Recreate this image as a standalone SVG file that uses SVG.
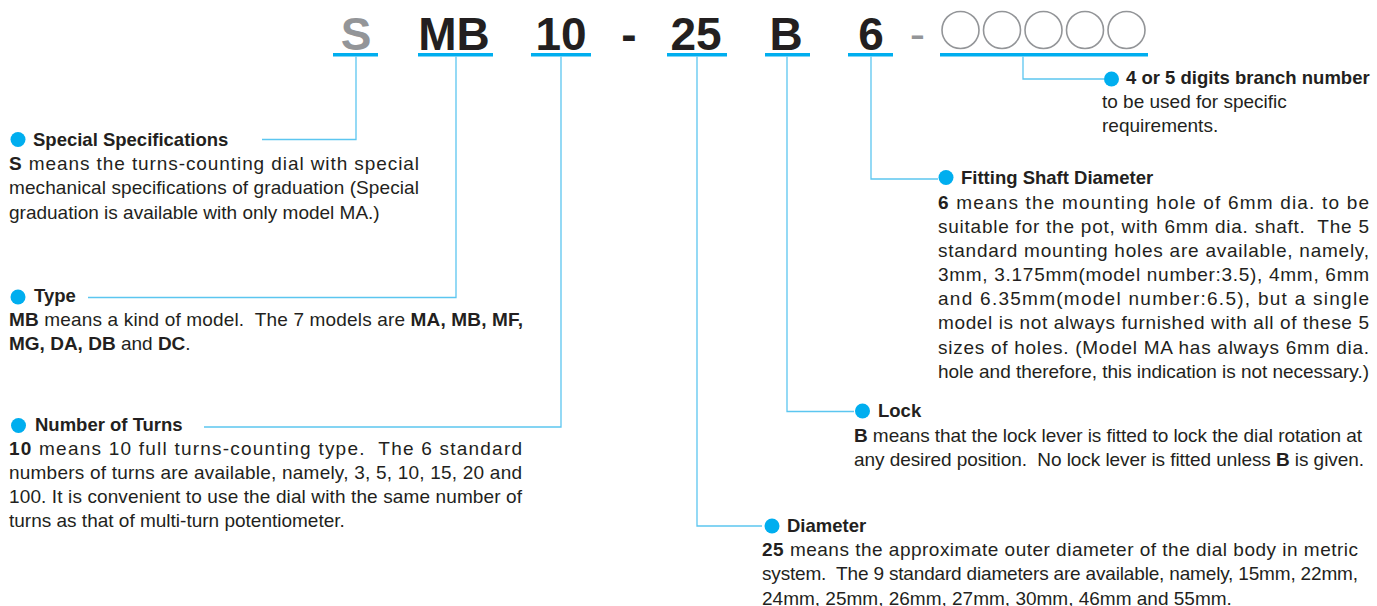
<svg xmlns="http://www.w3.org/2000/svg" width="1377" height="606" viewBox="0 0 1377 606">
<style>
text{font-family:"Liberation Sans",Arial,Helvetica,sans-serif;fill:#231f20}
.code{font-size:46px;font-weight:bold;text-anchor:middle}
.grey{fill:#939598}
.h{font-size:18.5px;font-weight:bold}
.b{font-size:19px}
.bold{font-weight:bold}
.bar{fill:#00aeef}
.dot{fill:#00aeef}
.conn{fill:none;stroke:#5cc6f0;stroke-width:1.3}
.circ{fill:none;stroke:#939598;stroke-width:1.6}
</style>
<rect width="1377" height="606" fill="#ffffff"/>
<g id="code">
<text class="code grey" x="356" y="50">S</text>
<text class="code" x="454" y="50">MB</text>
<text class="code" x="561" y="50">10</text>
<text class="code" x="629" y="50">-</text>
<text class="code" x="696" y="50">25</text>
<text class="code" x="786" y="50">B</text>
<text class="code" x="871" y="50">6</text>
<text class="code grey" x="917.5" y="50" style="font-weight:normal">-</text>
<circle class="circ" cx="960.5" cy="30" r="18.5"/>
<circle class="circ" cx="1002" cy="30" r="18.5"/>
<circle class="circ" cx="1043.5" cy="30" r="18.5"/>
<circle class="circ" cx="1085" cy="30" r="18.5"/>
<circle class="circ" cx="1126.5" cy="30" r="18.5"/>
<rect class="bar" x="333" y="53" width="45" height="3.5"/>
<rect class="bar" x="418" y="53" width="75" height="3.5"/>
<rect class="bar" x="531" y="53" width="60" height="3.5"/>
<rect class="bar" x="667" y="53" width="60" height="3.5"/>
<rect class="bar" x="765" y="53" width="45" height="3.5"/>
<rect class="bar" x="848" y="53" width="45" height="3.5"/>
<rect class="bar" x="940" y="53" width="208" height="3.5"/>
</g>
<g id="connectors">
<polyline class="conn" points="356,56.5 356,139.5 262,139.5"/>
<polyline class="conn" points="456,56.5 456,297.5 88,297.5"/>
<polyline class="conn" points="561,56.5 561,427 204,427"/>
<polyline class="conn" points="697,56.5 697,526 762,526"/>
<polyline class="conn" points="787,56.5 787,411.5 854,411.5"/>
<polyline class="conn" points="871,56.5 871,179 938,179"/>
<polyline class="conn" points="1023,56.5 1023,79 1104,79"/>
</g>
<g id="special">
<circle class="dot" cx="18" cy="139.5" r="7.5"/>
<text class="h" x="33" y="146">Special Specifications</text>
<text class="b" x="9" y="170" textLength="410" lengthAdjust="spacing"><tspan class="bold">S</tspan> means the turns-counting dial with special</text>
<text class="b" x="9" y="194" textLength="410" lengthAdjust="spacing">mechanical specifications of graduation (Special</text>
<text class="b" x="9" y="218.5">graduation is available with only model MA.)</text>
</g>
<g id="type">
<circle class="dot" cx="18" cy="297" r="7.5"/>
<text class="h" x="34" y="302">Type</text>
<text class="b" x="9" y="325.5" textLength="514" lengthAdjust="spacing" xml:space="preserve"><tspan class="bold">MB</tspan> means a kind of model.  The 7 models are <tspan class="bold">MA, MB, MF,</tspan></text>
<text class="b" x="9" y="349.5" xml:space="preserve"><tspan class="bold">MG, DA, DB</tspan> and <tspan class="bold">DC</tspan>.</text>
</g>
<g id="turns">
<circle class="dot" cx="18.5" cy="425.5" r="7.5"/>
<text class="h" x="35" y="431">Number of Turns</text>
<text class="b" x="9" y="454.5" textLength="513" lengthAdjust="spacing" xml:space="preserve"><tspan class="bold">10</tspan> means 10 full turns-counting type.  The 6 standard</text>
<text class="b" x="9" y="478.5" textLength="513" lengthAdjust="spacing">numbers of turns are available, namely, 3, 5, 10, 15, 20 and</text>
<text class="b" x="9" y="502.5" textLength="513" lengthAdjust="spacing">100. It is convenient to use the dial with the same number of</text>
<text class="b" x="9" y="526.5">turns as that of multi-turn potentiometer.</text>
</g>
<g id="fitting">
<circle class="dot" cx="946" cy="177.5" r="7.5"/>
<text class="h" x="961" y="184">Fitting Shaft Diameter</text>
<text class="b" x="938" y="208.5" textLength="431" lengthAdjust="spacing"><tspan class="bold">6</tspan> means the mounting hole of 6mm dia. to be</text>
<text class="b" x="938" y="232.5" textLength="431" lengthAdjust="spacing" xml:space="preserve">suitable for the pot, with 6mm dia. shaft.  The 5</text>
<text class="b" x="938" y="256.5" textLength="431" lengthAdjust="spacing">standard mounting holes are available, namely,</text>
<text class="b" x="938" y="280.5" textLength="431" lengthAdjust="spacing">3mm, 3.175mm(model number:3.5), 4mm, 6mm</text>
<text class="b" x="938" y="305" textLength="431" lengthAdjust="spacing">and 6.35mm(model number:6.5), but a single</text>
<text class="b" x="938" y="329" textLength="431" lengthAdjust="spacing">model is not always furnished with all of these 5</text>
<text class="b" x="938" y="353.5" textLength="431" lengthAdjust="spacing">sizes of holes. (Model MA has always 6mm dia.</text>
<text class="b" x="938" y="378" textLength="431" lengthAdjust="spacing">hole and therefore, this indication is not necessary.)</text>
</g>
<g id="lock">
<circle class="dot" cx="862.5" cy="411" r="7.5"/>
<text class="h" x="878" y="417">Lock</text>
<text class="b" x="854" y="441.5" textLength="508" lengthAdjust="spacing"><tspan class="bold">B</tspan> means that the lock lever is fitted to lock the dial rotation at</text>
<text class="b" x="854" y="466" textLength="510" lengthAdjust="spacing" xml:space="preserve">any desired position.  No lock lever is fitted unless <tspan class="bold">B</tspan> is given.</text>
</g>
<g id="diameter">
<circle class="dot" cx="772" cy="526" r="7.5"/>
<text class="h" x="787" y="531.5">Diameter</text>
<text class="b" x="762" y="555.5" textLength="596" lengthAdjust="spacing"><tspan class="bold">25</tspan> means the approximate outer diameter of the dial body in metric</text>
<text class="b" x="762" y="580" textLength="596" lengthAdjust="spacing" xml:space="preserve">system.  The 9 standard diameters are available, namely, 15mm, 22mm,</text>
<text class="b" x="762" y="604.5">24mm, 25mm, 26mm, 27mm, 30mm, 46mm and 55mm.</text>
</g>
<g id="digits">
<circle class="dot" cx="1111.5" cy="79" r="7.5"/>
<text class="h" x="1126" y="84">4 or 5 digits branch number</text>
<text class="b" x="1102" y="108">to be used for specific</text>
<text class="b" x="1102" y="132">requirements.</text>
</g>
</svg>
